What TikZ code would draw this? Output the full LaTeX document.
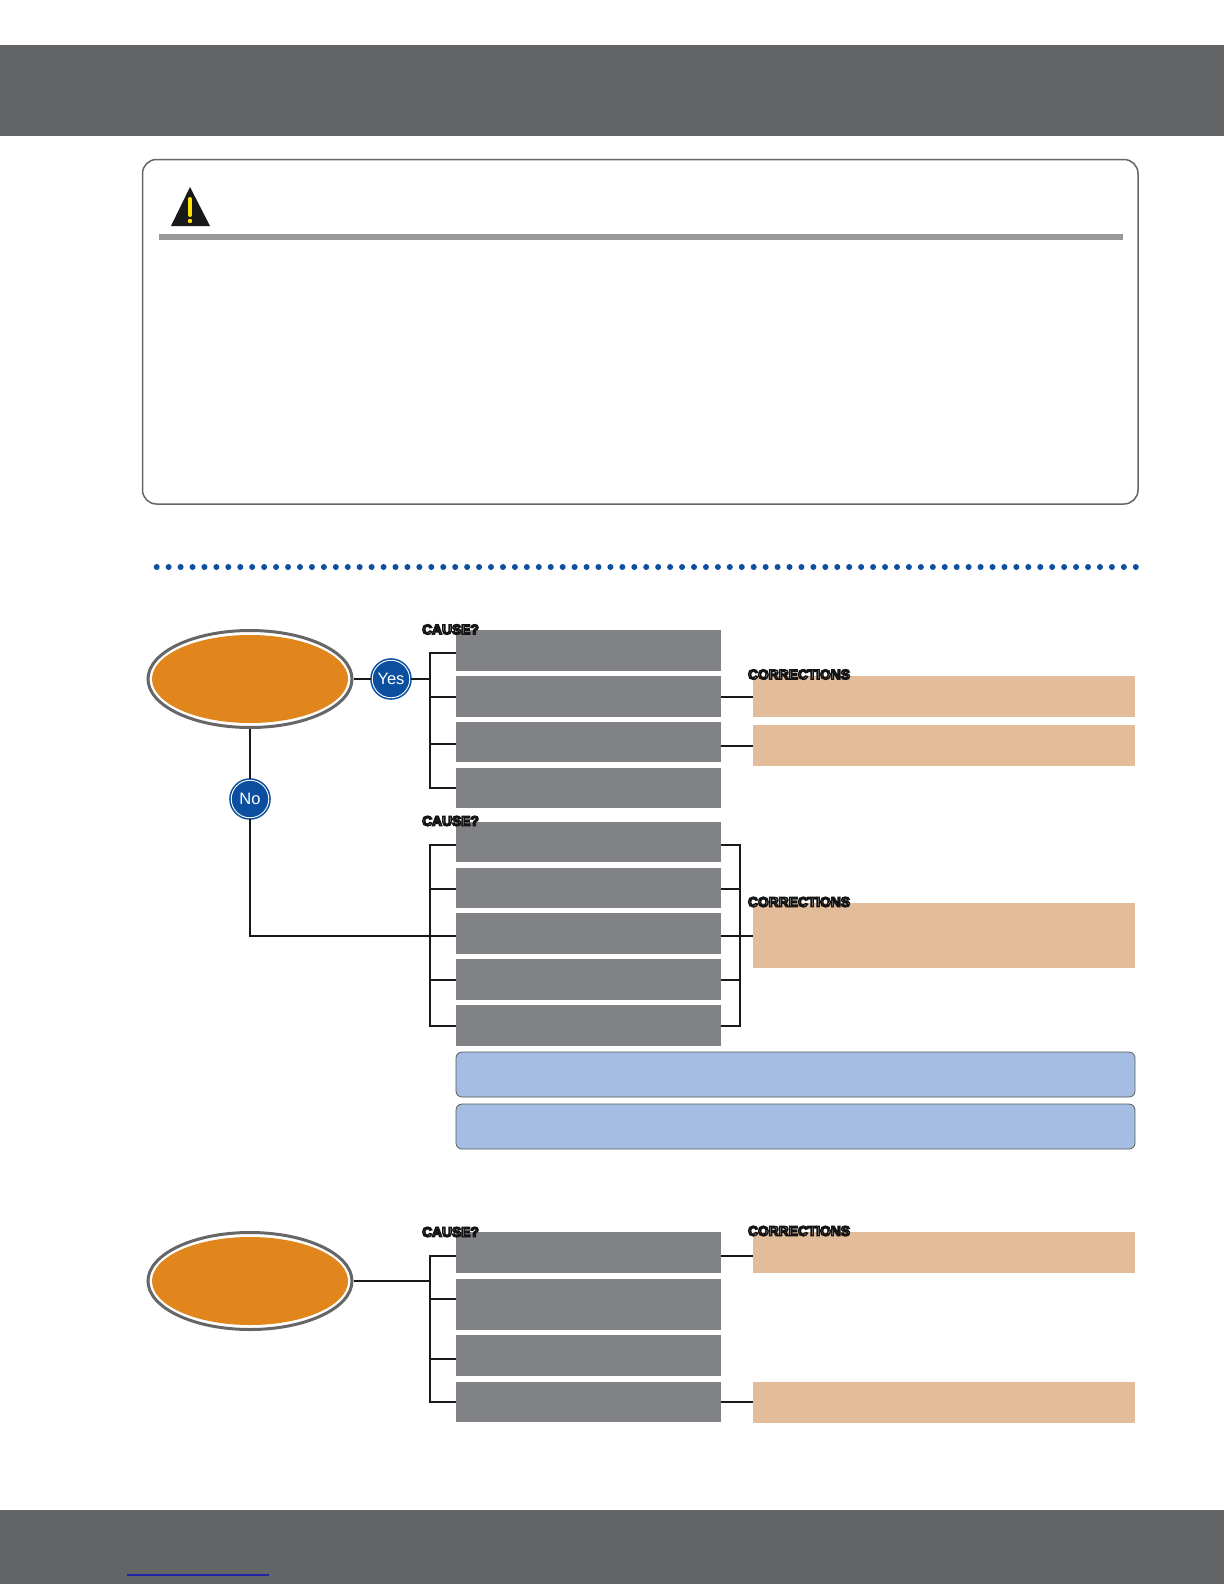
\documentclass[tikz,border=0pt]{standalone}
\usepackage{fontspec}
\setmainfont{Liberation Sans}
\usepackage{tikz}
\usetikzlibrary{shapes.geometric,positioning}
\definecolor{bandgray}{HTML}{636466}
\definecolor{cellgray}{HTML}{808285}
\definecolor{celltan}{HTML}{E3BC9A}
\definecolor{cellblue}{HTML}{A6BDE3}
\definecolor{ovalorange}{HTML}{E0861C}
\definecolor{badgeblue}{HTML}{0B4F9E}
\definecolor{linkblue}{HTML}{2222AA}
\newcommand{\outlined}[1]{\color{white}\special{pdf:code 2 Tr 1.45 w 0.08 0.08 0.08 RG}#1\special{pdf:code 0 Tr}}

\begin{document}
\begin{tikzpicture}[
    x=1pt, y=-1pt,
    font=\small,
    node distance=0mm,
    cause/.style={fill=cellgray, minimum width=265pt, minimum height=40.5pt, inner sep=0pt},
    fix/.style={fill=celltan, minimum width=382pt, minimum height=41pt, inner sep=0pt},
    note/.style={draw=black!65, fill=cellblue, rounded corners=6pt, minimum width=679pt, minimum height=45pt, inner sep=0pt, line width=0.8pt},
    band/.style={fill=bandgray, minimum width=1224pt, inner sep=0pt},
    ovalout/.style={ellipse, draw=black!60, fill=white, line width=3pt, minimum width=204pt, minimum height=97pt, inner sep=0pt},
    ovalin/.style={ellipse, fill=ovalorange, minimum width=196pt, minimum height=88pt, inner sep=0pt},
    badge/.style={circle, draw=badgeblue, fill=badgeblue, double=white, double distance=0.9pt, line width=1.6pt, minimum size=37.5pt, inner sep=0pt, text=white, font=\fontsize{16.5}{18}\selectfont},
    tag/.style={inner sep=0pt, font=\fontsize{13.8}{15}\selectfont\bfseries},
    wire/.style={draw=black!90, line width=1.7pt}
]
\useasboundingbox (0,0) rectangle (1224,1584);

% bands
\node[band, minimum height=91pt, anchor=north] (topband) at (612,45) {};
\node[band, minimum height=74pt, anchor=north] (footband) at (612,1510) {};
\draw[linkblue, line width=1.2pt] (127,1575) -- (269,1575);

% warning panel
\draw[black!60, line width=1.5pt, rounded corners=14pt, fill=white] (142.5,159.5) rectangle (1138,504);
\fill[black!90] (190,187) -- (210,226) -- (171,226) -- cycle;
\draw[yellow!85!orange, line width=4pt, line cap=round] (190,199) -- (190,215);
\fill[yellow!85!orange] (190,221) circle (2.2pt);
\fill[black!40] (159,234) rectangle (1123,240);

% dotted rule
\draw[badgeblue, line width=6pt, line cap=round, dash pattern=on 0pt off 11.94pt] (156.7,567) -- (1137,567);

% first oval
\node[ovalout] (ovala) at (250,679) {};
\node[ovalin] at (ovala) {};
\node[badge] (yes) at (391,679) {Yes};
\node[badge] (no) at (250,799) {No};

\node[cause] (ca) at (588.5,650.5) {};
\node[cause, below=5mm of ca, yshift=9.2pt] (cb) {};
\node[cause] (cc) at (588.5,742) {};
\node[cause] (cd) at (588.5,788) {};
\node[cause] (ce) at (588.5,842) {};
\node[cause] (cf) at (588.5,888) {};
\node[cause] (cg) at (588.5,933.5) {};
\node[cause] (ch) at (588.5,979.5) {};
\node[cause] (ci) at (588.5,1025.5) {};

\node[fix] (fa) at (944,696.5) {};
\node[fix] (fb) at (944,745.5) {};
\node[fix, minimum height=65pt] (fc) at (944,935.5) {};

\node[note] (na) at (795.5,1074.5) {};
\node[note] (nb) at (795.5,1126.5) {};

\coordinate (busa) at (430,679);
\coordinate (busb) at (430,936);
\coordinate (busc) at (740,936);

\draw[wire] (ovala) -- (yes);
\draw[wire] (yes) -- (busa);
\draw[wire] (ovala) -- (no);
\draw[wire] (no) |- (busb);

\foreach \a/\s in {ca/-2.5, cb/-0.5, cc/-2, cd/0}
  \draw[wire] ([yshift=\s pt]\a.west) -- ([yshift=\s pt]\a.west -| busa);
\draw[wire, line cap=rect] ([yshift=-2.5pt]ca.west -| busa) -- (cd.west -| busa);

\foreach \a/\s in {ce/-3, cf/-1, cg/-2.5, ch/-0.5, ci/-0.5}{
  \draw[wire] ([yshift=\s pt]\a.west) -- ([yshift=\s pt]\a.west -| busb);
  \draw[wire] ([yshift=\s pt]\a.east) -- ([yshift=\s pt]\a.east -| busc);
}
\draw[wire, line cap=rect] ([yshift=-3pt]ce.west -| busb) -- ([yshift=-0.5pt]ci.west -| busb);
\draw[wire, line cap=rect] ([yshift=-3pt]ce.east -| busc) -- ([yshift=-0.5pt]ci.east -| busc);
\draw[wire] (busc) -- (busc -| fc.west);
\draw[wire] ([yshift=-0.5pt]cb.east) -- ([yshift=-0.5pt]cb.east -| fa.west);
\draw[wire] ([yshift=-4pt]cc.east) -- ([yshift=-4pt]cc.east -| fb.west);

% second oval
\node[ovalout] (ovalb) at (250,1281) {};
\node[ovalin] at (ovalb) {};

\node[cause] (da) at (588.5,1252.5) {};
\node[cause, minimum height=51pt] (db) at (588.5,1304.5) {};
\node[cause] (dc) at (588.5,1355.5) {};
\node[cause] (dd) at (588.5,1402) {};

\node[fix] (ga) at (944,1252.5) {};
\node[fix] (gb) at (944,1402) {};

\coordinate (busd) at (430,1281);
\draw[wire] (ovalb) -- (busd);
\foreach \a/\s in {da/-3.5, db/5.5, dc/-3.7, dd/0}
  \draw[wire] ([yshift=\s pt]\a.west) -- ([yshift=\s pt]\a.west -| busd);
\draw[wire, line cap=rect] ([yshift=-3.5pt]da.west -| busd) -- (dd.west -| busd);
\draw[wire] ([yshift=-3.5pt]da.east) -- ([yshift=-3.5pt]da.east -| ga.west);
\draw[wire] (dd.east) -- (gb.west);

% tags
\foreach \n/\x/\y in {ta/450.5/629.5, tb/450.5/821, tc/450.5/1232}
  \node[tag] (\n) at (\x,\y) {\outlined{CAUSE?}};
\foreach \n/\x/\y in {te/799/674.5, tf/799/902, tg/799/1231}
  \node[tag] (\n) at (\x,\y) {\outlined{CORRECTIONS}};
\end{tikzpicture}
\end{document}
